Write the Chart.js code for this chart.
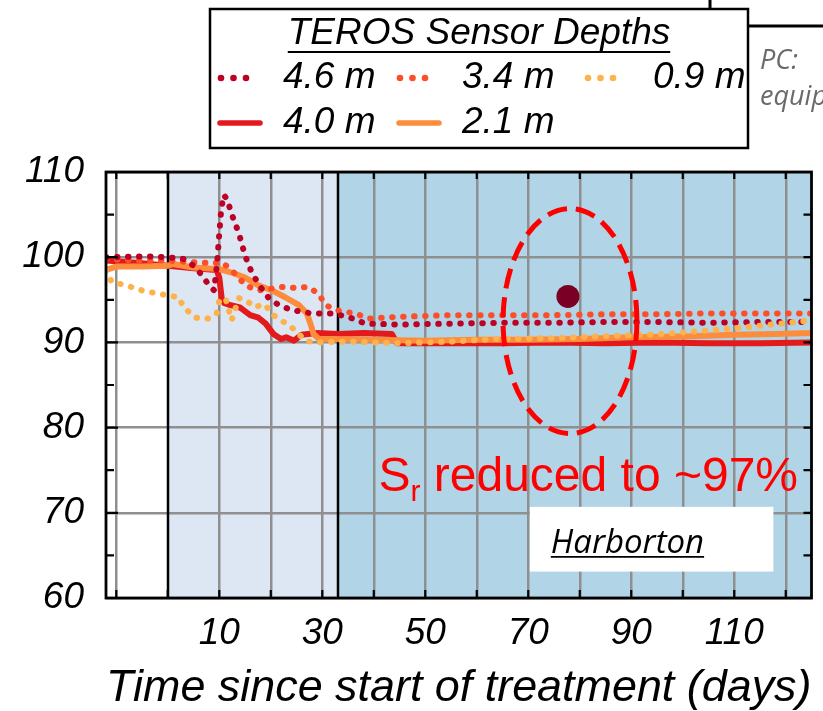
<!DOCTYPE html>
<html>
<head>
<meta charset="utf-8">
<script src="https://cdn.jsdelivr.net/npm/chart.js@4/dist/chart.umd.min.js"></script>
<style>
  html, body { margin: 0; padding: 0; background: #fff; }
  canvas { display: block; }
</style>
</head>
<body>
<canvas id="chart" width="823" height="711"></canvas>
<script>
// values (days since start of treatment, saturation %)
const days46 = [-12, -4, 0, 3, 5, 6.5, 8, 9, 9.6, 10, 10.4, 10.9, 11.5, 12.5, 13.8, 15, 16.3, 18, 19.6, 21.5, 24, 28, 32, 35, 38.4, 45, 55, 65, 75, 85, 95, 105, 115, 125];
const sat46 = [100, 100.1, 100, 99.8, 99, 98, 96.7, 96.1, 99.5, 102.8, 105.8, 107.3, 106.8, 104.9, 102.8, 100.2, 98.2, 96.5, 95.2, 94.4, 93.8, 93.4, 93.4, 93, 92.2, 92.1, 92.2, 92.3, 92.3, 92.4, 92.4, 92.3, 92.4, 92.4];

const days34 = [-12, -5, 0, 5, 9, 10.5, 12, 13.8, 15, 17.6, 20, 22, 24.5, 27.3, 29.3, 30.6, 32.5, 36.4, 39, 44.8, 55, 65, 75, 85, 95, 105, 115, 125];
const sat34 = [99.8, 99.6, 99.6, 99.4, 99.3, 99.4, 98.7, 97.6, 96.7, 96.1, 96.3, 96.5, 96.4, 96.5, 95.7, 94.4, 93.8, 93.4, 92.8, 93, 93.2, 93.2, 93.2, 93.3, 93.3, 93.4, 93.4, 93.4];

const days09 = [-12, -10.9, -8.1, -5, -1.7, 2.1, 3.1, 5.4, 7.9, 9.5, 10, 11.2, 12.4, 13.8, 15, 17, 18, 19, 20, 22, 24, 25.4, 26.7, 28.6, 35, 45, 55, 64, 75, 83.5, 96.5, 109, 119, 125];
const sat09 = [98.5, 97.1, 96.7, 96.1, 95.7, 95.3, 94.1, 92.9, 92.8, 93.4, 94.9, 95.2, 92.6, 95.2, 95, 94.1, 94.4, 94.4, 93.4, 92.6, 91.8, 91, 90.2, 90, 90.1, 89.9, 90.1, 90.4, 90.5, 90.7, 91, 91.6, 92.2, 92.6];

const days40 = [-12, -5, 0, 5, 9.5, 10, 10.5, 11, 12, 14, 16, 17.6, 19, 20.5, 22, 23, 24.5, 26, 29, 33, 38, 43.5, 44.5, 55, 65, 75, 85, 95, 105, 115, 125];
const sat40 = [99.6, 99.3, 99, 98.7, 98.5, 97.6, 95, 94.6, 94.4, 94.1, 93.2, 92.9, 92.2, 91, 90.4, 90.6, 90.2, 90.9, 91.1, 91, 91.1, 91, 89.9, 89.9, 89.9, 90, 89.9, 90, 89.9, 89.9, 90];

const days21 = [-12, -10, -5, 0, 1, 5, 10, 12.4, 15, 17.6, 20.2, 22.8, 25.4, 27, 27.7, 28.3, 29.3, 32, 40, 50, 60, 70, 80, 90, 100, 110, 118, 125];
const sat21 = [98.5, 98.9, 98.9, 99, 99.2, 98.8, 98.6, 98.2, 97.6, 96.7, 96.1, 95.3, 94.4, 93.4, 92.2, 91, 90.4, 90.4, 90.3, 90.2, 90.3, 90.3, 90.4, 90.6, 90.7, 90.9, 91, 91.1];

const markDay = [77.7];
const markSat = [95.4];

const depthLabels = ['4.6 m', '3.4 m', '0.9 m', '4.0 m', '2.1 m'];
const xGrid = [-10, 0, 10, 20, 30, 40, 50, 60, 70, 80, 90, 100, 110, 120];
const xLabels = [10, 30, 50, 70, 90, 110];
const yTicks = [60, 70, 80, 90, 100, 110];
const yMinor = [65, 75, 85, 95, 105];
const treatStart = 0, phaseTwo = 33;

const pts = (d, v) => d.map((x, i) => ({ x: x, y: v[i] }));
const numFont = { family: 'Liberation Sans', size: 37, style: 'italic' };

const dotted = (label, d, v, color, order) => ({
  label: label, data: pts(d, v), borderColor: color, backgroundColor: color,
  borderWidth: 6, borderDash: [0.5, 10.5], borderCapStyle: 'round',
  pointRadius: 0, tension: 0, order: order
});
const solid = (label, d, v, color, order) => ({
  label: label, data: pts(d, v), borderColor: color, backgroundColor: color,
  borderWidth: 6, borderJoinStyle: 'round', pointRadius: 0, tension: 0, order: order
});

const datasets = [
  dotted(depthLabels[0], days46, sat46, '#bd0026', 2),
  dotted(depthLabels[1], days34, sat34, '#fc4e2a', 3),
  dotted(depthLabels[2], days09, sat09, '#feb24c', 1),
  solid(depthLabels[3], days40, sat40, '#e31a1c', 5),
  solid(depthLabels[4], days21, sat21, '#fd8d3c', 4),
  { label: 'mark', data: pts(markDay, markSat), showLine: false, pointRadius: 11.5,
    pointBackgroundColor: '#7a0026', pointBorderWidth: 0, order: 0, hideInLegend: true }
];

const decor = {
  id: 'decor',
  beforeDraw(chart) {
    const { ctx, chartArea: a, scales: { x } } = chart;
    const x0 = x.getPixelForValue(treatStart), x1 = x.getPixelForValue(phaseTwo);
    ctx.save();
    ctx.fillStyle = '#ffffff';
    ctx.fillRect(a.left, a.top, x0 - a.left, a.height);
    ctx.fillStyle = '#dce7f3';
    ctx.fillRect(x0, a.top, x1 - x0, a.height);
    ctx.fillStyle = '#b1d4e6';
    ctx.fillRect(x1, a.top, a.right - x1, a.height);
    ctx.restore();
  },
  beforeDatasetsDraw(chart) {
    const { ctx, chartArea: a, scales: { x } } = chart;
    ctx.save();
    ctx.strokeStyle = '#000';
    ctx.lineWidth = 2.5;
    [treatStart, phaseTwo].forEach(v => {
      const px = Math.round(x.getPixelForValue(v));
      ctx.beginPath(); ctx.moveTo(px, a.top); ctx.lineTo(px, a.bottom); ctx.stroke();
    });
    ctx.restore();
  },
  afterDatasetsDraw(chart) {
    const { ctx, chartArea: a, scales: { x, y } } = chart;
    ctx.save();
    // frame + inward ticks
    ctx.strokeStyle = '#000';
    ctx.lineWidth = 2.8;
    ctx.strokeRect(a.left, a.top, a.width, a.height);
    ctx.lineWidth = 2.2;
    ctx.beginPath();
    xGrid.forEach(v => {
      const px = x.getPixelForValue(v);
      ctx.moveTo(px, a.top); ctx.lineTo(px, a.top + 7);
      ctx.moveTo(px, a.bottom); ctx.lineTo(px, a.bottom - 8);
    });
    yTicks.concat(yMinor).forEach(v => {
      const py = y.getPixelForValue(v);
      const len = yTicks.includes(v) ? 12 : 8;
      ctx.moveTo(a.left, py); ctx.lineTo(a.left + len, py);
      ctx.moveTo(a.right, py); ctx.lineTo(a.right - 8, py);
    });
    ctx.stroke();

    // dashed ellipse around the marked point
    const cx = x.getPixelForValue(78.1), cy = y.getPixelForValue(92.5);
    const rx = x.getPixelForValue(78.1 + 13) - cx, ry = cy - y.getPixelForValue(92.5 + 13.2);
    ctx.strokeStyle = '#ff0000';
    ctx.lineWidth = 5;
    ctx.setLineDash([20, 9]);
    ctx.beginPath(); ctx.ellipse(cx, cy, rx, ry, 0, 0, Math.PI * 2); ctx.stroke();
    ctx.setLineDash([]);

    // S_r annotation
    let tx = x.getPixelForValue(40.9);
    const ty = y.getPixelForValue(72.6);
    ctx.fillStyle = '#ff0000';
    ctx.textBaseline = 'alphabetic';
    ctx.textAlign = 'left';
    ctx.font = '48px "Liberation Sans"';
    ctx.fillText('S', tx, ty);
    tx += ctx.measureText('S').width;
    ctx.font = '30px "Liberation Sans"';
    ctx.fillText('r', tx, ty + 10);
    tx += ctx.measureText('r').width;
    ctx.font = '48px "Liberation Sans"';
    ctx.fillText(' reduced to ~97%', tx, ty);

    // site label box
    const bx0 = x.getPixelForValue(70.3), bx1 = x.getPixelForValue(117.6);
    const by0 = y.getPixelForValue(70.7), by1 = y.getPixelForValue(63.1);
    ctx.fillStyle = '#ffffff';
    ctx.fillRect(bx0, by0, bx1 - bx0, by1 - by0);
    ctx.fillStyle = '#000';
    ctx.strokeStyle = '#000';
    ctx.font = 'italic 33px "Open Sans"';
    const hw = ctx.measureText('Harborton').width;
    const hx = bx0 + 21, hy = by0 + 46;
    ctx.fillText('Harborton', hx, hy);
    ctx.lineWidth = 1.8;
    ctx.beginPath(); ctx.moveTo(hx, hy + 4); ctx.lineTo(hx + hw, hy + 4); ctx.stroke();
    ctx.restore();
  },
  afterDraw(chart) {
    const { ctx } = chart;
    ctx.save();
    // neighbouring box at the top right
    ctx.strokeStyle = '#000';
    ctx.lineWidth = 3;
    ctx.beginPath(); ctx.moveTo(710, 0); ctx.lineTo(710, 26); ctx.lineTo(823, 26); ctx.stroke();
    ctx.fillStyle = '#6a6a6a';
    ctx.font = 'italic 27px "Open Sans"';
    ctx.textBaseline = 'middle';
    ctx.textAlign = 'left';
    ctx.fillText('PC:', 760, 61);
    ctx.fillText('equipment', 760, 97);

    // legend
    ctx.fillStyle = '#fff';
    ctx.fillRect(210, 9, 538, 139);
    ctx.strokeStyle = '#000';
    ctx.lineWidth = 2.5;
    ctx.strokeRect(210, 9, 538, 139);
    ctx.fillStyle = '#000';
    ctx.font = 'italic 37px "Liberation Sans"';
    ctx.textAlign = 'center';
    const title = 'TEROS Sensor Depths';
    ctx.fillText(title, 479, 34);
    const tw = ctx.measureText(title).width;
    ctx.lineWidth = 2;
    ctx.beginPath(); ctx.moveTo(479 - tw / 2, 52); ctx.lineTo(479 + tw / 2, 52); ctx.stroke();

    const colMark = [218, 397, 585], colText = [283, 462, 653], rowY = [78, 123];
    const items = chart.data.datasets.filter(d => !d.hideInLegend);
    items.forEach((d, i) => {
      const r = i < 3 ? 0 : 1, c = i < 3 ? i : i - 3;
      const yy = rowY[r], mx = colMark[c];
      ctx.fillStyle = d.borderColor;
      ctx.strokeStyle = d.borderColor;
      if (d.borderDash) {
        for (let k = 0; k < 3; k++) {
          ctx.beginPath(); ctx.arc(mx + 3 + k * 12.5, yy, 3.3, 0, Math.PI * 2); ctx.fill();
        }
      } else {
        ctx.lineWidth = 5.5;
        ctx.lineCap = 'round';
        ctx.beginPath(); ctx.moveTo(mx + 2, yy); ctx.lineTo(mx + 42, yy); ctx.stroke();
      }
      ctx.fillStyle = '#000';
      ctx.textAlign = 'left';
      ctx.fillText(d.label, colText[c], yy);
    });
    ctx.restore();
  }
};

new Chart(document.getElementById('chart'), {
  type: 'line',
  data: { datasets: datasets },
  options: {
    responsive: false,
    animation: false,
    layout: { padding: { top: 172, right: 10, left: 0, bottom: 0 } },
    plugins: { legend: { display: false }, tooltip: { enabled: false } },
    scales: {
      x: {
        type: 'linear', min: -12, max: 125,
        afterBuildTicks: s => { s.ticks = xGrid.map(v => ({ value: v })); },
        afterFit: s => { s.height = 113; },
        grid: { color: c => (c.tick && c.tick.value === treatStart) ? 'rgba(0,0,0,0)' : '#8f8f8f', lineWidth: 2.5, drawTicks: false },
        border: { display: false },
        ticks: { autoSkip: false, maxRotation: 0, padding: 14, color: '#000', font: numFont,
          callback: v => xLabels.includes(v) ? String(v) : '' },
        title: { display: true, text: 'Time since start of treatment (days)', color: '#000',
          font: { family: 'Liberation Sans', size: 45, style: 'italic', lineHeight: 1 }, padding: { top: 0, bottom: 0 } }
      },
      y: {
        min: 60, max: 110,
        afterBuildTicks: s => { s.ticks = yTicks.map(v => ({ value: v })); },
        afterFit: s => { s.width = 106; },
        grid: { color: '#8f8f8f', lineWidth: 2.5, drawTicks: false },
        border: { display: false },
        ticks: { padding: 22, color: '#000', font: numFont }
      }
    }
  },
  plugins: [decor]
});
</script>
</body>
</html>
